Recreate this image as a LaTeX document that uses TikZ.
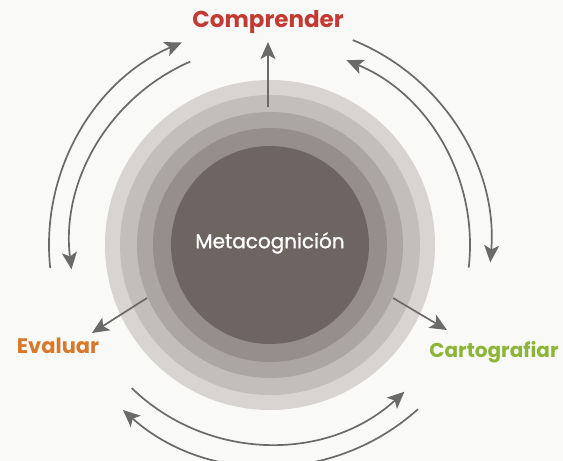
\documentclass[tikz,border=0pt]{standalone}
\usepackage{fontspec}
\setmainfont{Poppins}
\newfontfamily\metaf{Poppins}[FakeBold=1.2]
\usetikzlibrary{arrows.meta}
\definecolor{bgc}{HTML}{F9F9F7}
\definecolor{ringA}{HTML}{D8D4D1}
\definecolor{ringB}{HTML}{C3BEBB}
\definecolor{ringC}{HTML}{ACA6A3}
\definecolor{ringD}{HTML}{958E8B}
\definecolor{coreC}{HTML}{6E6562}
\definecolor{arrC}{HTML}{6A6A6A}
\definecolor{compC}{HTML}{C23A32}
\definecolor{evalC}{HTML}{D8782A}
\definecolor{cartC}{HTML}{8DB53A}
\tikzset{
  ring/.style={circle, inner sep=0pt, draw=none},
  arr/.style={draw=arrC, line width=1.7pt, -{Stealth[length=17pt,width=15pt,inset=4pt]}},
  lbl/.style={font=\bfseries\fontsize{21}{24}\selectfont, inner sep=1pt},
}
\begin{document}
\begin{tikzpicture}[x=1pt,y=-1pt]
\useasboundingbox (0,0) rectangle (563,461);
\fill[bgc] (0,0) rectangle (563,461);
\coordinate (O) at (270,245);
\node[ring, fill=ringA, minimum size=330pt] (r1) at (O) {};
\node[ring, fill=ringB, minimum size=300pt] (r2) at (O) {};
\node[ring, fill=ringC, minimum size=266pt] (r3) at (O) {};
\node[ring, fill=ringD, minimum size=234pt] (r4) at (O) {};
\node[ring, fill=coreC, minimum size=198pt] (core) at (O) {};
\node[text=white, font=\metaf\fontsize{20}{22}\selectfont] (meta) at (270,243) {Metacognición};

\node[lbl, text=compC, font=\bfseries\fontsize{23}{26}\selectfont] (comp) at (268,22) {Comprender};
\node[lbl, text=evalC] (eval) at (58,346) {Evaluar};
\node[lbl, text=cartC, font=\bfseries\fontsize{20}{24}\selectfont] (cart) at (494,352) {Cartografiar};

% straight arrows
\coordinate (sTop) at (268,107);
\coordinate (tTop) at (268,42);
\coordinate (sEval) at (147,298);
\coordinate (tEval) at (92,333);
\coordinate (sCart) at (393,298);
\coordinate (tCart) at (447,330);
\draw[arr] (sTop) -- (tTop);
\draw[arr] (sEval) -- (tEval);
\draw[arr] (sCart) -- (tCart);

% curved arrows
\draw[arr] (O) ++(-186:221) arc[start angle=-186, end angle=-113.5, radius=221];
\draw[arr] (O) ++(-113.5:200) arc[start angle=-113.5, end angle=-187, radius=200];
\draw[arr] (O) ++(-68:221) arc[start angle=-68, end angle=4.5, radius=221];
\draw[arr] (O) ++(6.5:200) arc[start angle=6.5, end angle=-67.5, radius=200];
\draw[arr] (O) ++(-226:199) arc[start angle=-226, end angle=-312.5, radius=199];
\draw[arr] (O) ++(-312:221) arc[start angle=-312, end angle=-228.3, radius=221];
\end{tikzpicture}
\end{document}
